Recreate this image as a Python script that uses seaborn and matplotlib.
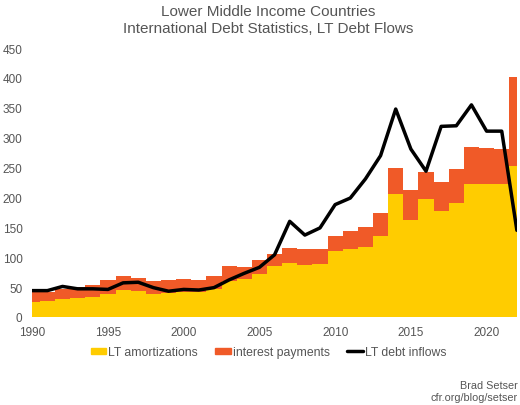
import matplotlib
matplotlib.use('Agg')
import matplotlib.pyplot as plt
import seaborn as sns
import pandas as pd
from matplotlib.patches import Patch
from matplotlib.lines import Line2D

# data (USD bn)
years = list(range(1990, 2023))
amortizations = [25, 26, 29.5, 31.5, 33.5, 38, 44.5, 43.5, 39, 40, 41.5, 41, 46,
                 60, 63, 71, 85, 90, 87, 88, 110, 114, 117, 135.5, 206, 161.5, 197,
                 177, 191, 222, 223, 223, 253]
total_service = [42, 42, 46, 50, 53, 61, 68, 64.5, 59.5, 62, 63.5, 62, 68.5,
                 84.5, 83, 94.5, 106, 115, 113.5, 114, 136, 144, 150.5, 174, 249, 212, 242.5,
                 225.5, 248, 284, 282.5, 281, 401]
inflows = [44, 44, 51, 47, 47, 46, 57, 58, 49, 43, 46, 45, 49,
           62, 73, 83, 104, 160, 137, 149, 188, 199, 231, 270, 348, 281, 244,
           319, 320, 355, 311, 311, 145]

df = pd.DataFrame({'year': years, 'amort': amortizations,
                   'total': total_service, 'inflows': inflows})

YELLOW = '#FFCC00'
ORANGE = '#F05A28'
TEXT = '#555555'

sns.set_style('white')
plt.rcParams['font.family'] = ['Liberation Sans', 'DejaVu Sans']

fig = plt.figure(figsize=(5.2, 4.06), dpi=100)
ax = fig.add_axes([0.062, 0.217, 0.932, 0.662])

# stacked step areas, bars centred on the years
ax.fill_between(df['year'], 0, df['amort'], step='mid', color=YELLOW, lw=0)
ax.fill_between(df['year'], df['amort'], df['total'], step='mid', color=ORANGE, lw=0)
sns.lineplot(data=df, x='year', y='inflows', ax=ax, color='black', lw=2.5)

ax.set_xlim(1990, 2022)
ax.set_ylim(0, 450)
ax.set_yticks(range(0, 451, 50))
ax.set_xticks(range(1990, 2021, 5))
ax.set_xticks(years, minor=True)
ax.set_xlabel('')
ax.set_ylabel('')
sns.despine(ax=ax, left=True, bottom=True)
ax.tick_params(axis='y', length=0, pad=7, labelsize=8.5, labelcolor=TEXT)
ax.tick_params(axis='x', which='both', length=2.5, color='#cccccc', direction='out',
               pad=4, labelsize=8.5, labelcolor=TEXT)

fig.text(0.515, 0.97, 'Lower Middle Income Countries', ha='center', va='center',
         fontsize=11, color=TEXT)
fig.text(0.515, 0.928, 'International Debt Statistics, LT Debt Flows', ha='center',
         va='center', fontsize=11, color=TEXT)

handles = [Patch(color=YELLOW), Patch(color=ORANGE),
           Line2D([], [], color='black', lw=2.5)]
labels = ['LT amortizations', 'interest payments', 'LT debt inflows']
fig.legend(handles, labels, loc='center', bbox_to_anchor=(0.516, 0.13), ncol=3,
           frameon=False, fontsize=8.8, labelcolor=TEXT, handlelength=1.3,
           handleheight=0.4, handletextpad=0.15, columnspacing=1.4)

fig.text(0.995, 0.049, 'Brad Setser', ha='right', va='center', fontsize=7.8, color=TEXT)
fig.text(0.995, 0.02, 'cfr.org/blog/setser', ha='right', va='center', fontsize=7.8,
         color=TEXT)

fig.savefig('out.png', dpi=100)
